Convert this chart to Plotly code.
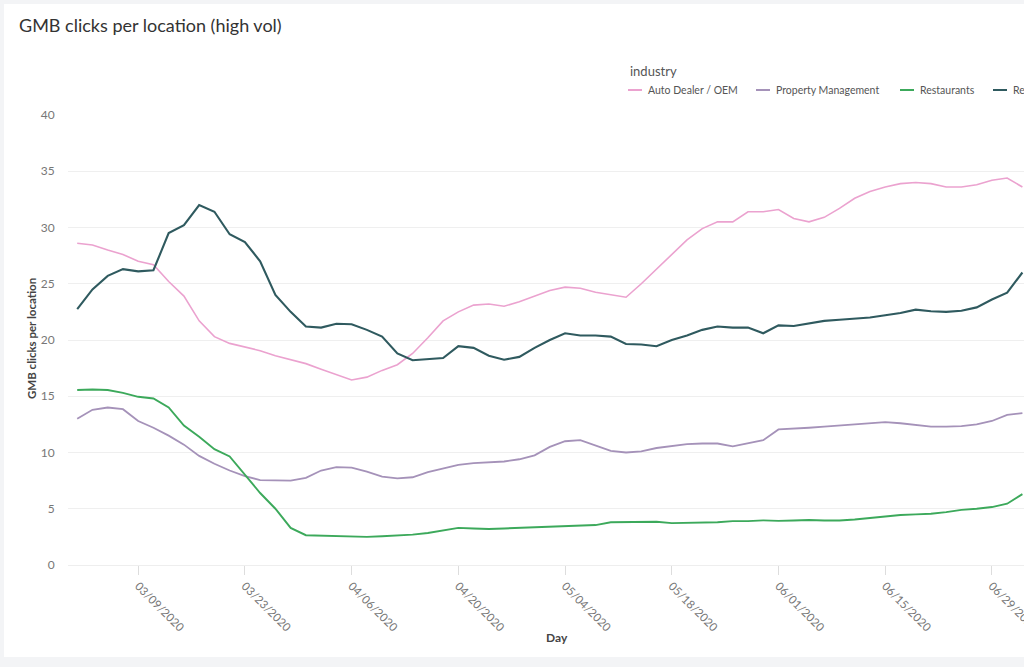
import pandas as pd
import plotly.graph_objects as go

# ---- data (every 2 days, 03/01/2020 .. 07/03/2020) ----
days = pd.date_range("2020-03-01", "2020-07-03", freq="2D")

series_names = ["Auto Dealer / OEM", "Property Management", "Restaurants", "Retail"]

auto_dealer = [28.6, 28.45, 28.0, 27.6, 27.0, 26.7, 25.2, 23.9, 21.7, 20.3,
               19.7, 19.4, 19.05, 18.6, 18.25, 17.9, 17.4, 16.9, 16.45, 16.7,
               17.3, 17.8, 18.8, 20.2, 21.7, 22.5, 23.1, 23.2, 23.0, 23.4,
               23.9, 24.4, 24.7, 24.6, 24.25, 24.0, 23.8, 25.0, 26.3, 27.6,
               28.9, 29.9, 30.5, 30.5, 31.4, 31.4, 31.6, 30.8, 30.5, 30.9,
               31.7, 32.6, 33.2, 33.6, 33.9, 34.0, 33.9, 33.6, 33.6, 33.8,
               34.2, 34.4, 33.6]

property_mgmt = [13.0, 13.8, 14.0, 13.85, 12.8, 12.2, 11.5, 10.7, 9.7, 9.0,
                 8.4, 7.9, 7.55, 7.5, 7.5, 7.75, 8.4, 8.7, 8.65, 8.3,
                 7.85, 7.7, 7.8, 8.25, 8.6, 8.9, 9.05, 9.1, 9.2, 9.4,
                 9.75, 10.5, 11.0, 11.1, 10.6, 10.15, 10.0, 10.1, 10.4, 10.6,
                 10.75, 10.8, 10.8, 10.55, 10.85, 11.1, 12.05, 12.1, 12.2, 12.3,
                 12.4, 12.5, 12.6, 12.7, 12.6, 12.45, 12.3, 12.3, 12.35, 12.5,
                 12.8, 13.35, 13.5]

restaurants = [15.55, 15.6, 15.55, 15.3, 14.95, 14.8, 14.0, 12.4, 11.4, 10.3,
               9.65, 8.0, 6.4, 5.0, 3.3, 2.65, 2.6, 2.55, 2.5, 2.5,
               2.55, 2.6, 2.7, 2.85, 3.1, 3.3, 3.25, 3.2, 3.25, 3.3,
               3.4, 3.45, 3.5, 3.5, 3.55, 3.8, 3.82, 3.87, 3.85, 3.72,
               3.75, 3.77, 3.8, 3.9, 3.9, 3.97, 3.92, 3.95, 4.0, 3.95,
               3.95, 4.05, 4.2, 4.35, 4.45, 4.5, 4.55, 4.7, 4.9, 5.0,
               5.15, 5.45, 6.3]

retail = [22.75, 24.5, 25.7, 26.3, 26.1, 26.2, 29.5, 30.2, 32.0, 31.4,
          29.4, 28.7, 27.0, 24.0, 22.5, 21.2, 21.1, 21.45, 21.4, 20.9,
          20.3, 18.8, 18.2, 18.3, 18.4, 19.45, 19.3, 18.6, 18.25, 18.5,
          19.3, 20.0, 20.6, 20.4, 20.4, 20.3, 19.65, 19.6, 19.45, 20.0,
          20.4, 20.9, 21.2, 21.1, 21.1, 20.6, 21.3, 21.25, 21.5, 21.7,
          21.8, 21.9, 22.0, 22.2, 22.4, 22.7, 22.55, 22.5, 22.6, 22.9,
          23.6, 24.2, 26.0]

y_ticks = [0, 5, 10, 15, 20, 25, 30, 35, 40]

series_values = [auto_dealer, property_mgmt, restaurants, retail]
colors = ["#eba2cf", "#a592b9", "#3ca95b", "#2f5a5f"]
widths = [1.6, 1.8, 1.9, 2.1]

FONT = "Lato"

fig = go.Figure()
for name, vals, c, w in zip(series_names, series_values, colors, widths):
    assert len(vals) == len(days)
    fig.add_trace(go.Scatter(x=days, y=vals, mode="lines", name=name,
                             line=dict(color=c, width=w), showlegend=False))

# geometry helpers (pixels -> paper)
W, H = 1024, 667
L, R, T, B = 68, 0, 115, 102
pw, ph = W - L - R, H - T - B
def px(x):
    return (x - L) / pw
def py(y):
    return (H - B - y) / ph

shapes = [dict(type="rect", xref="paper", yref="paper", layer="below",
               x0=px(4), x1=px(1040), y0=py(657), y1=py(4),
               fillcolor="white", line=dict(width=0))]
annotations = [
    dict(text="GMB clicks per location (high vol)", xref="paper", yref="paper",
         x=px(17), y=py(25), xanchor="left", yanchor="middle", showarrow=False,
         font=dict(family=FONT, size=18, color="#333333")),
    dict(text="industry", xref="paper", yref="paper",
         x=px(628), y=py(71), xanchor="left", yanchor="middle", showarrow=False,
         font=dict(family=FONT, size=13, color="#555555")),
    dict(text="<b>Day</b>", xref="paper", yref="paper",
         x=px(557), y=py(637), xanchor="center", yanchor="middle", showarrow=False,
         font=dict(family=FONT, size=12, color="#444444")),
    dict(text="<b>GMB clicks per location</b>", xref="paper", yref="paper",
         x=px(31), y=py(339), xanchor="center", yanchor="middle", showarrow=False,
         textangle=-90, font=dict(family=FONT, size=11.5, color="#444444")),
]
legend_x = [628, 756, 900, 993]
for name, c, lx in zip(series_names, colors, legend_x):
    shapes.append(dict(type="line", xref="paper", yref="paper",
                       x0=px(lx), x1=px(lx + 14), y0=py(90), y1=py(90),
                       line=dict(color=c, width=2)))
    annotations.append(dict(text=name, xref="paper", yref="paper",
                            x=px(lx + 18), y=py(90), xanchor="left", yanchor="middle",
                            showarrow=False,
                            font=dict(family=FONT, size=10.5, color="#555555")))

fig.update_layout(
    width=W, height=H,
    margin=dict(l=L, r=R, t=T, b=B, pad=0),
    paper_bgcolor="#f3f4f6",
    plot_bgcolor="white",
    font=dict(family=FONT, color="#666666"),
    shapes=shapes,
    annotations=annotations,
    showlegend=False,
)
fig.update_xaxes(
    type="date",
    range=["2020-02-28 19:00", "2020-07-03 05:00"],
    tick0="2020-03-09", dtick=14 * 86400000,
    tickformat="%m/%d/%Y", tickangle=45,
    tickfont=dict(family=FONT, size=11.5, color="#777777"),
    ticks="outside", ticklen=9, tickcolor="#dddddd", tickwidth=1,
    ticklabeloverflow="allow",
    showgrid=False, showline=True, linecolor="#eeeeee", linewidth=1,
    zeroline=False,
    automargin=False,
)
fig.update_yaxes(
    range=[0, 40], tickvals=y_ticks,
    tickfont=dict(family=FONT, size=12, color="#777777"),
    ticks="outside", ticklen=10, tickcolor="rgba(0,0,0,0)",
    showgrid=True, gridcolor="#efefef", gridwidth=1,
    zeroline=False, showline=False,
    automargin=False,
)

fig.write_html("out.html",
               config={"displayModeBar": False},
               post_script="document.body.style.margin='0';"
                           "document.body.style.overflow='hidden';")
